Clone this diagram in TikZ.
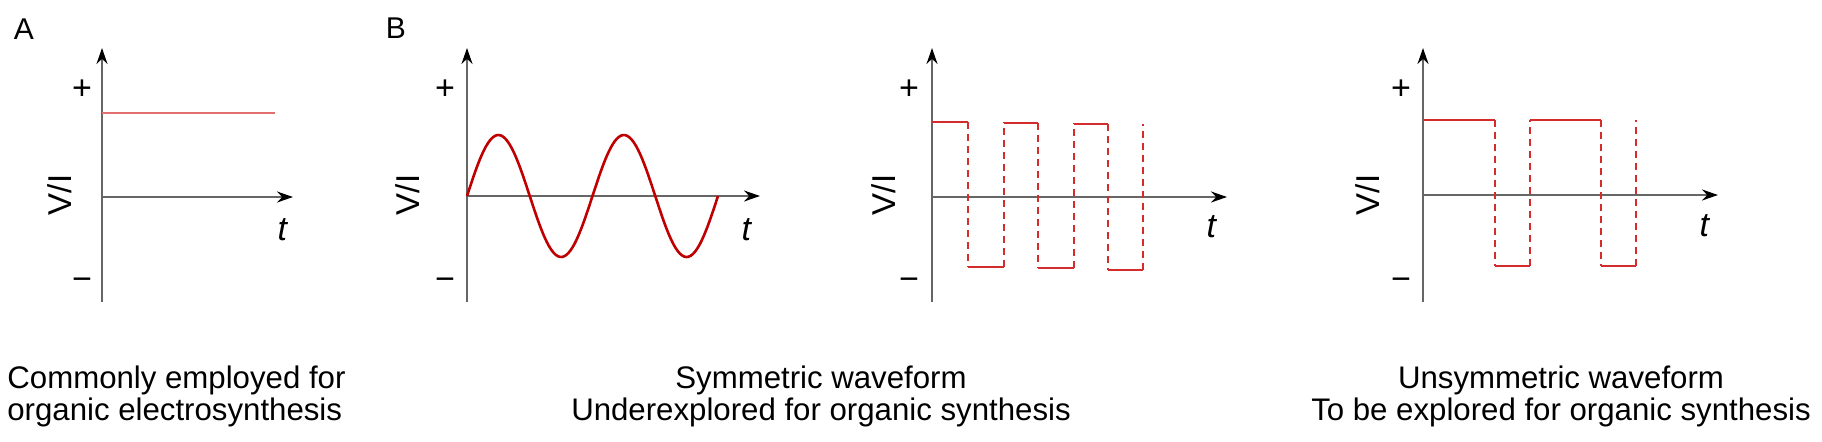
\documentclass[tikz,border=0pt]{standalone}
\usepackage{fontspec}
\setmainfont{Liberation Sans}
\usepackage{tikz}
\usetikzlibrary{arrows.meta}
\definecolor{darkred}{HTML}{C00000}
\definecolor{palered}{HTML}{E07070}
\definecolor{squarered}{HTML}{D42C2C}

\begin{document}
\begin{tikzpicture}[x=0.5pt, y=-0.5pt, font=\fontsize{15.6}{16}\selectfont,
  axis/.style={black!60, line width=1.1pt, -{Stealth[length=8pt, width=5.5pt, black]}},
  lbl/.style={inner sep=0pt},
  sign/.style={inner sep=0pt, font=\fontsize{17}{17}\selectfont},
  level/.style={squarered, line width=1pt},
  jump/.style={squarered, line width=1pt, dash pattern=on 3.5pt off 2.5pt}]
  \useasboundingbox (0,0) rectangle (1822,441);
  % axes of the four panels
  \foreach \i/\ox/\oy/\xe/\vx/\px/\tx/\ty in {1/102/197/293/60/82/283/230, 2/467/196/760/408/445/747/230, 3/932/197/1227/884/909/1212/227, 4/1423/195/1718/1368/1401/1705/226} {
    \coordinate (o\i) at (\ox,\oy);
    \coordinate (ytop\i) at (\ox,48); \coordinate (ybot\i) at (\ox,302); \coordinate (xend\i) at (\xe,\oy);
    \draw[axis] (ybot\i) -- (ytop\i);
    \draw[axis] (o\i) -- (xend\i);
    \node[sign] (plus\i) at (\px,90) {+};
    \node[sign] (minus\i) at (\px,284) {−};
    \node[lbl, rotate=90, font=\fontsize{16.5}{16.5}\selectfont] (vi\i) at (\vx,195) {V/I};
    \node[sign] (t\i) at (\tx,\ty) {\textit{t}};
  }
  \node[lbl, anchor=base, font=\fontsize{15}{15}\selectfont] (labA) at (24,39) {A};
  \node[lbl, anchor=base, font=\fontsize{15}{15}\selectfont] (labB) at (396,38) {B};
  % constant
  \draw[palered, line width=1pt] (102,113) -- (275,113);
  % sine
  \draw[darkred, line width=1.3pt] plot[domain=0:251, samples=120, smooth] ({467+\x}, {196-61*sin(\x/125.5*360)});
  % square waves
  \foreach \xa/\xb/\xc/\yh/\yl in {932/968/1004/122/267, 1004/1038/1074/122.5/268, 1074/1108/1143/124/270,
                                   1423/1495/1530/120/266, 1530/1601/1636/120/266} {
    \draw[level] (\xa,\yh) -- (\xb,\yh) (\xb,\yl) -- (\xc,\yl);
    \draw[jump] (\xb,\yh) -- (\xb,\yl) (\xc,\yl) -- (\xc,\yh);
  }
  \node[lbl, anchor=base west] (capA1) at (7,388) {Commonly employed for};
  \node[lbl, anchor=base west] (capA2) at (7,420) {organic electrosynthesis};
  \node[lbl, anchor=base] (capB1) at (821,388) {Symmetric waveform};
  \node[lbl, anchor=base] (capB2) at (821,420) {Underexplored for organic synthesis};
  \node[lbl, anchor=base] (capC1) at (1561,388) {Unsymmetric waveform};
  \node[lbl, anchor=base] (capC2) at (1561,420) {To be explored for organic synthesis};
\end{tikzpicture}
\end{document}
